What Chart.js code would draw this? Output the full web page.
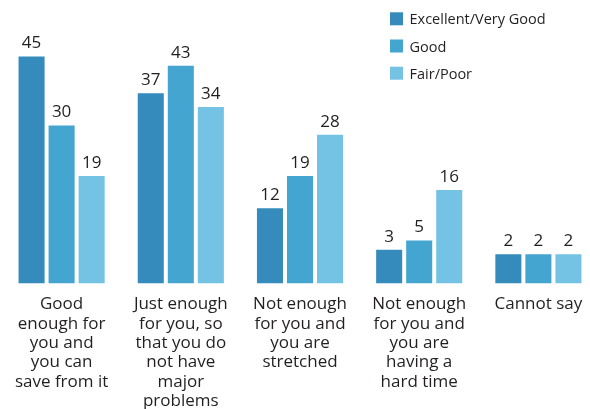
<!DOCTYPE html>
<html>
<head>
<meta charset="utf-8">
<script src="https://cdn.jsdelivr.net/npm/chart.js@4.4.0/dist/chart.umd.min.js"></script>
<style>
  html, body { margin: 0; padding: 0; background: #fff; overflow: hidden; }
  #wrap { position: relative; width: 590px; height: 409px; overflow: hidden; }
  #wrap canvas { position: absolute; left: 0; top: 0; }
</style>
</head>
<body>
<div id="wrap"><canvas id="chart" width="600" height="409"></canvas></div>
<script>
const categories = [
  ["Good", "enough for", "you and", "you can", "save from it"],
  ["Just enough", "for you, so", "that you do", "not have", "major", "problems"],
  ["Not enough", "for you and", "you are", "stretched"],
  ["Not enough", "for you and", "you are", "having a", "hard time"],
  ["Cannot say"]
];
const seriesNames = ["Excellent/Very Good", "Good", "Fair/Poor"];
const excellentValues = [45, 37, 12, 3, 2];
const goodValues = [30, 43, 19, 5, 2];
const fairValues = [19, 34, 28, 16, 2];
const seriesColors = ["#358bbb", "#43a5d0", "#74c2e4"];

// bars in the original don't start at zero, they start a bit below
const yMin = -4.35;
const yMax = 50;
const fontFamily = "'Open Sans', sans-serif";
const textColor = "#231f20";

// numbers above bars
const valueLabels = {
  id: "valueLabels",
  afterDatasetsDraw(chart) {
    const ctx = chart.ctx;
    ctx.save();
    ctx.font = "17px " + fontFamily;
    ctx.fillStyle = textColor;
    ctx.textAlign = "center";
    ctx.textBaseline = "alphabetic";
    chart.data.datasets.forEach((ds, i) => {
      chart.getDatasetMeta(i).data.forEach((bar, j) => {
        ctx.fillText(ds.data[j], bar.x, bar.y - 8);
      });
    });
    ctx.restore();
  }
};

// stacked legend in the top right corner
const sideLegend = {
  id: "sideLegend",
  afterDraw(chart) {
    const ctx = chart.ctx;
    ctx.save();
    ctx.font = "14.5px " + fontFamily;
    ctx.textAlign = "left";
    ctx.textBaseline = "alphabetic";
    chart.data.datasets.forEach((ds, i) => {
      const top = 12.3 + i * 27.2;
      ctx.fillStyle = ds.backgroundColor;
      ctx.fillRect(390, top, 13, 13);
      ctx.fillStyle = textColor;
      ctx.fillText(ds.label, 409.5, top + 12);
    });
    ctx.restore();
  }
};

new Chart(document.getElementById("chart"), {
  type: "bar",
  data: {
    labels: categories,
    datasets: [
      { label: seriesNames[0], data: excellentValues, backgroundColor: seriesColors[0] },
      { label: seriesNames[1], data: goodValues, backgroundColor: seriesColors[1] },
      { label: seriesNames[2], data: fairValues, backgroundColor: seriesColors[2] }
    ].map(d => Object.assign(d, { base: yMin, categoryPercentage: 0.756, barPercentage: 0.867 }))
  },
  options: {
    responsive: false,
    animation: false,
    layout: { padding: { left: 2, right: 2, top: 33.5, bottom: 0 } },
    plugins: { legend: { display: false }, tooltip: { enabled: false } },
    scales: {
      x: {
        grid: { display: false, drawTicks: false },
        border: { display: false },
        ticks: {
          color: textColor,
          font: { family: fontFamily, size: 17, lineHeight: 1.135 },
          padding: 11.5,
          maxRotation: 0,
          autoSkip: false
        },
        afterFit(scale) { scale.height = 125.5; }
      },
      y: { display: false, min: yMin, max: yMax }
    }
  },
  plugins: [valueLabels, sideLegend]
});
</script>
</body>
</html>
